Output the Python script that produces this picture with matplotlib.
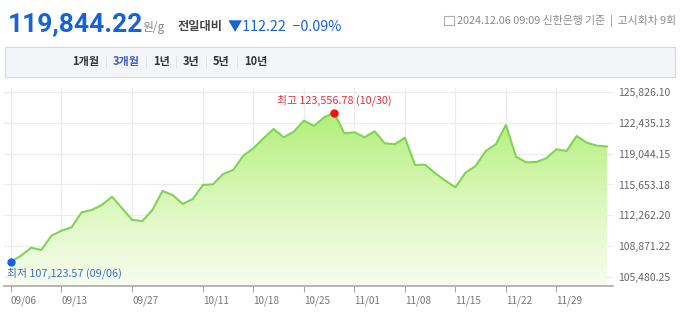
import matplotlib

matplotlib.use('Agg')

import numpy as np
import matplotlib.pyplot as plt
from matplotlib.patches import Rectangle
from matplotlib.colors import LinearSegmentedColormap

plt.rcParams['font.family'] = ['Noto Sans CJK KR', 'DejaVu Sans']

# 영업일 기준 날짜 (09/06 ~ 12/06)
dates = ['09/06', '09/09', '09/10', '09/11', '09/12', '09/13', '09/19', '09/20', '09/23', '09/24',
         '09/25', '09/26', '09/27', '09/30', '10/02', '10/04', '10/07', '10/08', '10/10', '10/11',
         '10/14', '10/15', '10/16', '10/17', '10/18', '10/21', '10/22', '10/23', '10/24', '10/25',
         '10/28', '10/29', '10/30', '10/31', '11/01', '11/04', '11/05', '11/06', '11/07', '11/08',
         '11/11', '11/12', '11/13', '11/14', '11/15', '11/18', '11/19', '11/20', '11/21', '11/22',
         '11/25', '11/26', '11/27', '11/28', '11/29', '12/02', '12/03', '12/04', '12/05', '12/06']
prices = [107123.57, 107798, 108680, 108426, 110004, 110556, 110931, 112587, 112840, 113392,
          114308, 113028, 111737, 111626, 112840, 114937, 114495, 113502, 114054, 115599,
          115676, 116813, 117254, 118832, 119649, 120752, 121778, 120863, 121481, 122695,
          122110, 123070, 123556.78, 121304, 121414, 120863, 121525, 120201, 120090, 120819,
          117806, 117839, 116890, 116074, 115345, 116956, 117695, 119351, 120090, 122220,
          118722, 118104, 118137, 118545, 119539, 119351, 121006, 120267, 119936, 119844.22]
tick_dates = ['09/06', '09/13', '09/27', '10/11', '10/18', '10/25', '11/01', '11/08', '11/15', '11/22', '11/29']
y_ticks = [105480.25, 108871.22, 112262.20, 115653.18, 119044.15, 122435.13, 125826.10]
periods = ['1개월', '3개월', '1년', '3년', '5년', '10년']

W, H = 680, 315
fig = plt.figure(figsize=(W / 100, H / 100), dpi=100)


def fx(x):
    return x / W


def fy(y):
    return 1 - y / H


# 상단 헤더
blue = '#1762d6'
fig.text(fx(8), fy(31), '119,844.22', family=['Roboto', 'DejaVu Sans'], fontweight='bold',
         fontsize=19, color=blue, va='baseline')
fig.text(fx(142), fy(31), '원/g', fontsize=8.5, color='#888888', va='baseline')
fig.text(fx(178), fy(30), '전일대비', fontsize=8.8, fontweight='bold', color='#444444', va='baseline')
fig.text(fx(228), fy(30), '▼112.22  −0.09%', fontsize=10.3, fontweight='medium', color=blue, va='baseline')
fig.text(fx(676), fy(24), '2024.12.06 09:09 신한은행 기준  |  고시회차 9회', fontsize=7.8,
         color='#8a8a8a', ha='right', va='baseline')
fig.patches.append(Rectangle((fx(444), fy(25)), 10 / W, 9 / H, transform=fig.transFigure,
                             fill=False, edgecolor='#b0b0b0', lw=0.8))

# 기간 버튼 바
fig.patches.append(Rectangle((fx(5), fy(77)), 670 / W, 30 / H, transform=fig.transFigure,
                             facecolor='#f4f5f9', edgecolor='#d6d8de', lw=0.8))
btn_x = [72, 113, 153, 183, 213, 244]
for i, (lab, bx) in enumerate(zip(periods, btn_x)):
    fig.text(fx(bx), fy(62), lab, fontsize=8, fontweight='bold',
             color='#3d5fbf' if lab == '3개월' else '#333333', va='center')
    if i > 0:
        fig.text(fx(bx - 7), fy(62), '|', fontsize=7, color='#d8d8d8', va='center', ha='center')

# 차트
ax = fig.add_axes([fx(4), fy(286), 609 / W, 198 / H])
x = np.arange(len(prices))
x0, x1 = -0.69, len(prices) - 1 + 0.6
y0, y1 = 104454, 126300

for s in ['top', 'left', 'right']:
    ax.spines[s].set_visible(False)
ax.spines['bottom'].set_color('#aaaaaa')
ax.spines['bottom'].set_linewidth(1.2)

ax.set_yticks(y_ticks)
ax.set_yticklabels([f'{v:,.2f}' for v in y_ticks])
ax.yaxis.tick_right()
ax.tick_params(axis='y', length=0, pad=4, labelsize=7.5, labelcolor='#666666')

tick_pos = [dates.index(d) for d in tick_dates]
ax.set_xticks(tick_pos)
ax.set_xticklabels(tick_dates, ha='left')
ax.tick_params(axis='x', length=4, width=0.8, color='#aaaaaa', pad=3, labelsize=7.2, labelcolor='#777777')

ax.grid(True, color='#ececec', lw=0.9)
ax.set_axisbelow(True)

# 그라데이션 채우기
poly = ax.fill_between(x, prices, y0, color='none')
grad = np.linspace(0, 1, 256).reshape(-1, 1)
cmap = LinearSegmentedColormap.from_list('g', ['#f7fdf0', '#d9f7b8', '#aeee72'])
img = ax.imshow(grad, cmap=cmap, aspect='auto', origin='lower',
                extent=[x0, x1, y0, 124500], zorder=1.5)
img.set_clip_path(poly.get_paths()[0], transform=ax.transData)
ax.set_xlim(x0, x1)
ax.set_ylim(y0, y1)
ax.plot(x, prices, color='#80d455', lw=1.5, zorder=3, solid_joinstyle='round')

# 최고/최저 표시
imax = int(np.argmax(prices))
imin = int(np.argmin(prices))
ax.plot(imax, prices[imax], 'o', color='#ee1111', ms=5, zorder=4)
ax.annotate(f'최고 {prices[imax]:,.2f} ({dates[imax]})', (imax, prices[imax]), xytext=(0, 5),
            textcoords='offset points', ha='center', va='bottom', fontsize=7.8, color='#e0303a')
ax.plot(imin, prices[imin], 'o', color='#1762d6', ms=5, zorder=4, clip_on=False)
ax.annotate(f'최저 {prices[imin]:,.2f} ({dates[imin]})', (imin, prices[imin]), xytext=(-3, -4),
            textcoords='offset points', ha='left', va='top', fontsize=7.8, color='#3a6ec4')

plt.savefig('out.png', dpi=100)
plt.close()
